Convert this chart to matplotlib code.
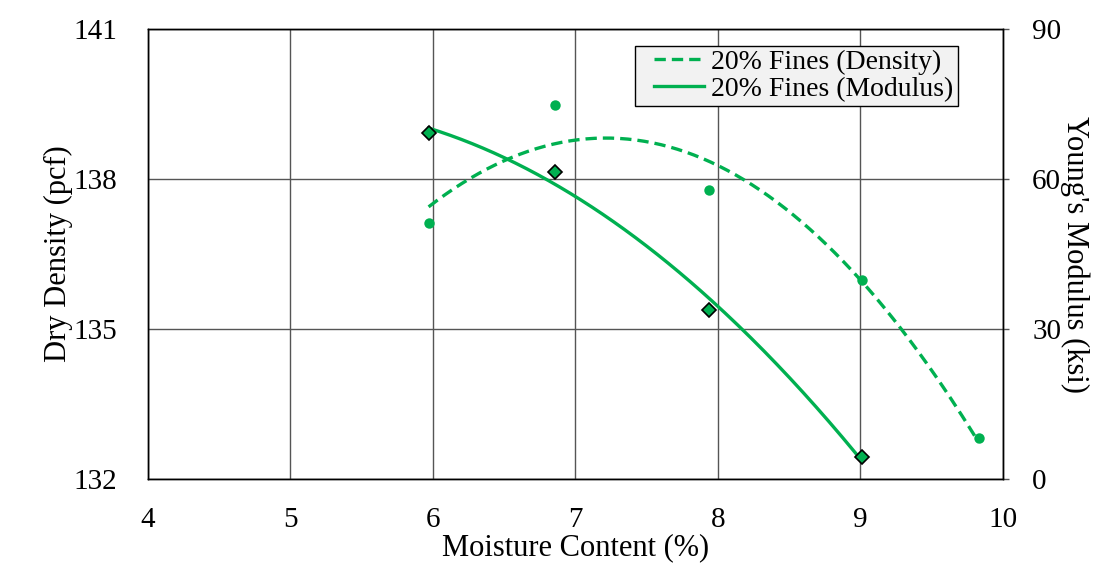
import matplotlib
matplotlib.use("Agg")
import matplotlib.pyplot as plt
from matplotlib.legend_handler import HandlerLine2D
import numpy as np

plt.rcParams["font.family"] = ["Liberation Serif", "DejaVu Serif"]

GREEN = "#00b050"

# Moisture content (%) and measured values
moisture_density = [5.97, 6.86, 7.94, 9.01, 9.83]
dry_density = [137.12, 139.48, 137.78, 135.98, 132.82]

moisture_modulus = [5.97, 6.86, 7.94, 9.01]
modulus = [69.2, 61.4, 33.8, 4.4]

x_ticks = [4, 5, 6, 7, 8, 9, 10]
density_ticks = [132, 135, 138, 141]
modulus_ticks = [0, 30, 60, 90]


def trend(x, y):
    # second-order polynomial trendline, as Excel draws it
    coef = np.polyfit(x, y, 2)
    xs = np.linspace(min(x), max(x), 200)
    return xs, np.polyval(coef, xs)


fig, ax = plt.subplots(figsize=(10.95, 5.67), dpi=100)
fig.subplots_adjust(left=0.135, right=0.916, top=0.949, bottom=0.155)
ax2 = ax.twinx()

xs, ys = trend(moisture_density, dry_density)
ld, = ax.plot(xs, ys, color=GREEN, linestyle=(0, (3.4, 1.8)), linewidth=2.4,
              label="20% Fines (Density)", zorder=3)
ax.plot(moisture_density, dry_density, "o", color=GREEN, markersize=7.5,
        markeredgewidth=0, zorder=4)

xs, ys = trend(moisture_modulus, modulus)
lm, = ax2.plot(xs, ys, color=GREEN, linestyle="-", linewidth=2.4,
               label="20% Fines (Modulus)", zorder=3)
ax2.plot(moisture_modulus, modulus, "D", color=GREEN, markersize=7,
         markeredgecolor="black", markeredgewidth=1.2, zorder=4)

ax.set_xlim(4, 10)
ax.set_ylim(132, 141)
ax2.set_ylim(0, 90)
ax.set_xticks(x_ticks)
ax.set_yticks(density_ticks)
ax2.set_yticks(modulus_ticks)

ax.grid(color="#555555", linewidth=1.0)
ax.tick_params(axis="y", length=0, labelsize=21, pad=22)
ax.tick_params(axis="x", length=0, labelsize=21, pad=20)
ax2.tick_params(length=4, width=1.0, direction="out", color="#555555",
                labelsize=21, pad=17)
for a in (ax, ax2):
    for s in a.spines.values():
        s.set_color("black")
        s.set_linewidth(1.0)

ax.set_xlabel("Moisture Content (%)", fontsize=22, labelpad=0)
ax.set_ylabel("Dry Density (pcf)", fontsize=22)
ax.yaxis.set_label_coords(-0.088, 0.5)
ax2.set_ylabel("Young's Modulus (ksi)", fontsize=22, rotation=270, labelpad=20)

hmap = {ld: HandlerLine2D(xpad=0.55), lm: HandlerLine2D(xpad=0.55)}
leg = ax2.legend(handles=[ld, lm], loc="upper right", handler_map=hmap,
                 bbox_to_anchor=(0.947, 0.963), fontsize=20,
                 frameon=True, fancybox=False, borderpad=0.15,
                 handlelength=2.35, handletextpad=0.25, labelspacing=0.05,
                 borderaxespad=0)
leg.get_frame().set_facecolor("#f2f2f2")
leg.get_frame().set_edgecolor("black")
leg.get_frame().set_alpha(1)
leg.get_frame().set_linewidth(1.0)

fig.savefig("out.png", dpi=100)
